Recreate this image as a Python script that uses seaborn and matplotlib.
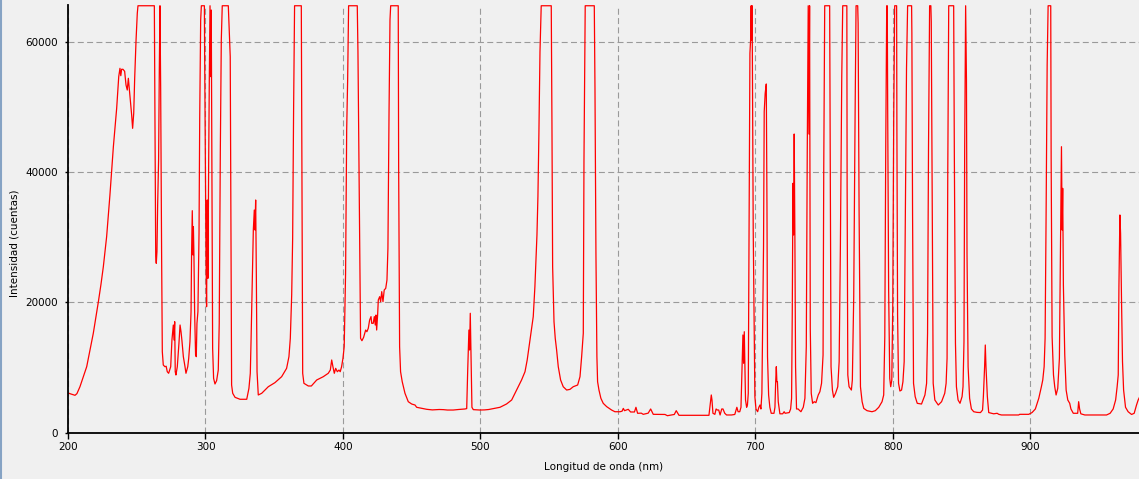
import pandas as pd
import matplotlib
matplotlib.use('Agg')
import matplotlib.pyplot as plt
import seaborn as sns
from matplotlib.lines import Line2D

# spectrum: (wavelength nm, counts); 65535 = detector saturation
uv_band = [
    (200.0, 6100), (202.0, 5950), (205.1, 5740), (206.5, 6000), (208.7, 7060),
    (211.0, 8500), (213.6, 10130), (216.0, 12700), (218.4, 15260), (220.3, 17700),
    (222.1, 20110), (224.0, 22800), (225.7, 25480), (228.1, 30090), (230.5, 36490),
    (233.0, 43900), (235.4, 49790), (236.9, 54650), (237.8, 55930), (238.4, 54800),
    (239.0, 55780), (240.0, 55780), (241.2, 55470), (242.2, 53370), (243.1, 52600),
    (243.9, 54400), (245.1, 51580), (246.3, 48770), (247.0, 46720), (247.8, 49030),
    (248.5, 54400), (249.5, 60280), (250.4, 64380), (250.9, 65535), (262.8, 65535),
    (263.3, 46720), (263.8, 27020), (264.2, 26000), (264.7, 27800), (265.2, 34950),
    (265.9, 41860), (266.4, 55410), (266.9, 65535), (267.4, 52860), (268.1, 27020),
    (268.6, 12430), (269.3, 10390), (270.5, 10130), (271.4, 10200), (272.2, 9360),
    (273.2, 9120), (274.7, 10130), (275.6, 14230), (276.6, 16530), (277.1, 14230),
    (277.6, 17040), (278.0, 9360), (278.5, 8860), (279.5, 10130), (280.7, 13720),
    (281.5, 16530), (282.2, 15500), (282.9, 14070), (283.9, 11670), (285.1, 10130),
    (285.8, 9120), (287.1, 10130), (287.8, 11420), (288.7, 13970), (289.5, 18570),
    (289.9, 27780), (290.4, 34080), (290.9, 27280), (291.2, 31620), (291.6, 27280),
    (292.1, 18570), (292.8, 11930), (293.3, 11670), (293.8, 16790), (294.5, 18570),
    (295.3, 30600), (295.8, 48260), (296.5, 63350), (297.0, 65535), (299.2, 65535),
    (299.4, 57720), (300.4, 26510), (300.8, 19340), (301.3, 35720), (301.8, 23700),
    (302.3, 40830), (302.8, 54650), (303.3, 65535), (303.8, 54650), (304.2, 64880),
    (304.7, 40830), (305.2, 12950), (305.9, 8350), (306.9, 7480), (308.1, 7990),
    (309.3, 9620), (310.0, 16790), (310.8, 43390), (311.5, 60280), (312.2, 65535),
    (316.6, 65535), (317.1, 62840), (318.0, 57720), (318.5, 31110), (319.0, 7320),
    (319.8, 6050), (321.5, 5430), (325.1, 5130),
]

blue_band = [
    (330.0, 5130), (331.6, 6810), (332.6, 9120), (333.1, 13720), (334.0, 23180),
    (334.8, 31110), (335.5, 34180), (336.0, 31110), (336.5, 35720), (337.0, 23950),
    (337.5, 9360), (338.4, 5790), (340.9, 6050), (345.7, 7060), (350.5, 7680),
    (355.4, 8600), (359.0, 9880), (360.7, 11670), (361.7, 14490), (362.7, 21140),
    (363.4, 29840), (364.1, 49790), (364.8, 65535), (369.7, 65535), (370.2, 37760),
    (370.7, 9120), (371.6, 7580), (374.8, 7170), (377.0, 7170), (380.9, 8090),
    (385.7, 8600), (389.3, 9120), (390.8, 9620), (391.8, 11160), (392.7, 10130),
    (393.7, 9120), (394.7, 9880), (395.9, 9360), (397.1, 9620), (398.0, 9360),
    (399.0, 10130), (400.0, 11420), (400.9, 13200), (401.9, 24470), (402.7, 46470),
    (403.4, 54140), (404.1, 65535), (410.4, 65535), (410.9, 58480), (411.6, 42370),
    (412.4, 23950), (412.8, 14490), (413.8, 14120), (415.0, 14630), (416.5, 15760),
    (417.4, 15500), (418.4, 16020), (419.4, 17300), (420.4, 17820), (420.9, 16790),
    (422.0, 16790), (422.8, 17820), (423.5, 16530), (424.0, 18060), (424.5, 15760),
    (425.2, 18060), (425.7, 20370), (426.7, 20880), (427.4, 20110), (428.2, 21650),
    (429.1, 20110), (430.0, 21900), (431.1, 22160), (432.0, 23440), (432.7, 28300),
    (433.5, 49030), (434.2, 63350), (434.7, 65535), (440.2, 65535), (440.5, 40830),
    (441.2, 13200), (441.9, 9360), (443.1, 7830), (445.1, 6050), (447.5, 4760),
    (450.0, 4400), (452.4, 4250),
]

green_band = [
    (453.6, 3900), (460.9, 3590), (465.0, 3500), (470.0, 3560), (473.0, 3540),
    (476.0, 3480), (480.2, 3480), (484.0, 3560), (488.7, 3640), (490.0, 3700),
    (490.7, 9360), (491.6, 15760), (492.1, 12690), (492.6, 18330), (493.1, 12690),
    (493.8, 3900), (494.8, 3540), (499.6, 3480), (503.0, 3500), (506.0, 3560),
    (509.3, 3690), (514.2, 3900), (519.0, 4410), (522.7, 5020), (525.1, 6050),
    (527.5, 7060), (529.9, 8090), (532.4, 9360), (534.0, 11160), (535.5, 13460),
    (537.2, 16020), (538.4, 17820), (539.6, 22410), (540.4, 26510), (541.1, 30350),
    (541.8, 36230), (542.5, 45700), (543.3, 58480), (544.2, 65535), (551.5, 65535),
    (552.0, 47490), (552.5, 25480), (553.5, 17040), (554.4, 14490), (555.4, 12690),
    (556.6, 10130), (558.3, 8090), (560.2, 7060), (562.7, 6550), (565.1, 6650),
    (567.5, 7060), (570.7, 7320), (572.4, 8600), (573.6, 11670), (574.8, 15260),
    (575.3, 41860), (576.2, 65535), (582.8, 65535), (583.3, 52860), (584.0, 27540),
    (584.7, 11670), (585.2, 7830), (586.2, 6550), (587.6, 5280), (589.3, 4510),
    (591.8, 4000), (595.4, 3480), (597.8, 3220), (601.5, 3220),
]

red_band = [
    (603.0, 3300), (603.9, 3730), (604.8, 3380), (607.5, 3590), (609.2, 3180),
    (612.0, 3180), (613.1, 3900), (614.3, 2980), (617.0, 3000), (618.4, 2820),
    (622.0, 3000), (623.8, 3640), (625.7, 2820), (634.2, 2800), (636.0, 2610),
    (641.0, 2800), (642.4, 3380), (644.4, 2670), (660.8, 2670), (666.2, 2670),
    (667.2, 4510), (667.9, 5790), (668.4, 5020), (669.1, 2980), (670.5, 2820),
    (671.4, 3640), (672.3, 3480), (673.3, 3480), (674.3, 2720), (675.5, 3640),
    (676.4, 3640), (677.7, 2980), (679.0, 2720), (682.6, 2720), (685.0, 2800),
    (686.5, 3900), (687.4, 3220), (688.6, 3220), (689.5, 3900), (690.2, 9620),
    (690.9, 15000), (691.4, 10650), (691.9, 15500), (692.3, 10650), (692.8, 5020),
    (693.6, 3900), (694.2, 4250), (694.8, 6050), (695.3, 29070), (696.0, 58240),
    (696.5, 60280), (696.9, 65535), (697.2, 60280), (697.6, 65535), (698.4, 31110),
    (699.1, 15260), (699.6, 5530), (700.4, 3640), (701.6, 3220), (702.5, 3900),
    (703.3, 4250), (704.0, 3640), (704.7, 6050), (705.3, 16790), (705.9, 28560),
    (706.4, 49280), (707.1, 52100), (707.9, 53530), (708.4, 34690), (708.8, 11670),
    (709.6, 5790), (710.5, 3900), (711.5, 2980), (713.5, 2980), (714.2, 3900),
    (714.7, 7580), (715.2, 10130), (715.6, 7830), (716.0, 7830), (716.6, 4760),
    (717.8, 2900), (719.8, 2900), (720.9, 3220), (721.6, 2980), (724.6, 3090),
    (725.6, 3640), (726.3, 5280), (726.8, 18330), (727.3, 38280), (727.8, 30350),
    (728.2, 45850), (728.7, 30090), (729.2, 10130), (729.9, 3640), (731.1, 3640),
    (731.8, 3480), (733.1, 3220), (734.8, 3900), (736.0, 5280), (737.0, 13200),
    (737.7, 43130), (738.4, 65535), (738.9, 45850), (739.4, 65535), (739.9, 16020),
    (740.6, 6050), (741.6, 4510), (742.8, 4760), (744.0, 4610), (745.7, 5790),
    (746.9, 6300), (748.1, 7580), (749.2, 11930), (749.7, 40580), (750.4, 65535),
    (754.0, 65535), (754.5, 39290), (755.0, 10130), (756.0, 6550), (756.9, 5430),
    (758.3, 6050), (759.9, 7060), (760.9, 10900), (761.8, 28560), (762.8, 54650),
    (763.5, 65535), (766.5, 65535), (766.7, 37760), (767.2, 8860), (768.1, 7060),
    (769.0, 6800), (769.8, 6550), (770.5, 8090), (771.5, 20880), (772.5, 48770),
    (773.2, 65535), (774.4, 65535), (774.7, 62840), (775.4, 34180), (776.4, 7060),
    (777.6, 4760), (778.8, 3730), (781.2, 3380), (784.8, 3220), (787.2, 3380),
    (789.7, 3900), (792.1, 4760), (793.3, 5790), (794.1, 14750), (794.8, 44010),
    (795.5, 65535), (795.9, 65535), (796.2, 49790), (796.9, 21900), (797.7, 8350),
    (798.4, 7060),
]

nir_band = [
    (799.2, 8090), (799.9, 19600), (800.6, 48520), (801.3, 65535), (802.7, 65535),
    (802.9, 46980), (803.4, 18050), (804.1, 7580), (805.1, 6400), (806.3, 6550),
    (807.3, 7830), (808.2, 10900), (808.9, 29330), (809.9, 55930), (810.7, 65535),
    (813.6, 65535), (813.8, 61300), (814.3, 33670), (815.0, 7580), (816.2, 5530),
    (817.7, 4510), (820.8, 4400), (823.3, 5790), (824.5, 7580), (825.2, 15260),
    (825.9, 43640), (826.7, 65535), (827.6, 65535), (827.9, 63100), (828.6, 34690),
    (829.3, 7580), (830.5, 5020), (833.0, 4250), (835.4, 4760), (837.7, 6050),
    (838.7, 7580), (839.4, 11420), (839.9, 39800), (840.6, 65535), (844.2, 65535),
    (844.7, 42120), (845.5, 13720), (846.2, 7060), (847.4, 5020), (848.8, 4510),
    (850.3, 5530), (851.0, 7060), (851.7, 13970), (852.2, 43390), (852.9, 65535),
    (853.5, 54140), (853.9, 27530), (854.7, 10130), (855.8, 5280), (857.1, 3640),
    (858.8, 3220), (861.2, 3120), (863.7, 3090), (865.2, 3480), (865.8, 5530),
    (866.7, 10130), (867.2, 13460), (867.7, 10130), (868.7, 5530), (869.7, 3090),
    (873.3, 2900), (875.8, 2980), (877.0, 2820), (879.0, 2720), (891.5, 2720),
    (892.2, 2820), (898.8, 2820), (901.2, 3090), (903.6, 3640), (906.1, 5280),
    (908.0, 7060), (909.0, 8090), (910.0, 10130), (910.7, 14490), (911.4, 32650),
    (912.2, 56440), (912.9, 65535), (914.8, 65535), (915.1, 42120), (915.8, 14750),
    (916.8, 8860), (917.7, 7060), (918.7, 5790), (919.9, 6800), (921.1, 11420),
    (921.9, 29330), (922.6, 43900), (923.1, 31110), (923.5, 37510), (924.0, 22670),
    (925.0, 11930), (926.0, 6550), (927.2, 5020), (928.6, 4510), (929.5, 3640),
    (931.2, 2980), (934.4, 2980), (935.1, 4760), (935.8, 3640), (936.7, 2900),
    (939.6, 2720), (955.4, 2720), (958.0, 2980), (960.2, 3640), (962.0, 5020),
    (963.1, 7060), (963.9, 8860), (964.4, 22410), (965.1, 33420), (965.6, 30600),
    (966.3, 20110), (967.0, 10900), (967.8, 6550), (969.2, 3900), (971.1, 3220),
    (973.6, 2800), (975.5, 2980), (977.2, 4250), (978.4, 5020), (979.5, 5500),
]

x_ticks = [200, 300, 400, 500, 600, 700, 800, 900]
y_ticks = [0, 20000, 40000, 60000]

spectrum = pd.DataFrame(uv_band + blue_band + green_band + red_band + nir_band,
                        columns=['wavelength', 'counts'])

sns.set_theme(style='ticks')
plt.rcParams['font.family'] = ['DejaVu Sans']
plt.rcParams['lines.scale_dashes'] = False

bg = '#f0f0f0'
fig = plt.figure(figsize=(11.39, 4.79), dpi=100, facecolor=bg)
ax = fig.add_axes([68 / 1139, 46.3 / 479, 1071 / 1139, 427.7 / 479])
ax.set_facecolor(bg)

sns.lineplot(data=spectrum, x='wavelength', y='counts', ax=ax, color='#ff0000',
             linewidth=0.9, sort=False, estimator=None)

ax.set_xlim(200, 979)
ax.set_ylim(0, 65650)
ax.set_xticks(x_ticks)
ax.set_yticks(y_ticks)
ax.set_xticklabels([str(t) for t in x_ticks])
ax.set_yticklabels([str(t) for t in y_ticks])

ax.grid(True, color='#9a9a9a', linestyle=(0, (4.3, 2.4)), linewidth=0.8)
ax.set_axisbelow(True)

sns.despine(ax=ax)
for side in ['left', 'bottom']:
    ax.spines[side].set_color('black')
    ax.spines[side].set_linewidth(1.3)

ax.tick_params(axis='x', length=4, width=1, pad=2.5, labelsize=7.5, colors='black')
ax.tick_params(axis='y', length=2.5, width=1, pad=5, labelsize=7.5, colors='black')

ax.set_xlabel('Longitud de onda (nm)', fontsize=7.5, color='black')
ax.set_ylabel('Intensidad (cuentas)', fontsize=7.5, color='black', va='center')
ax.xaxis.set_label_coords(0.5, -0.068)
ax.yaxis.set_label_coords(-0.0504, 0.444)

# thin window border on the left edge
fig.add_artist(Line2D([0.0009, 0.0009], [0, 1], transform=fig.transFigure,
                      color='#86a3c4', linewidth=1.5))

fig.savefig('out.png', dpi=100, facecolor=bg)
